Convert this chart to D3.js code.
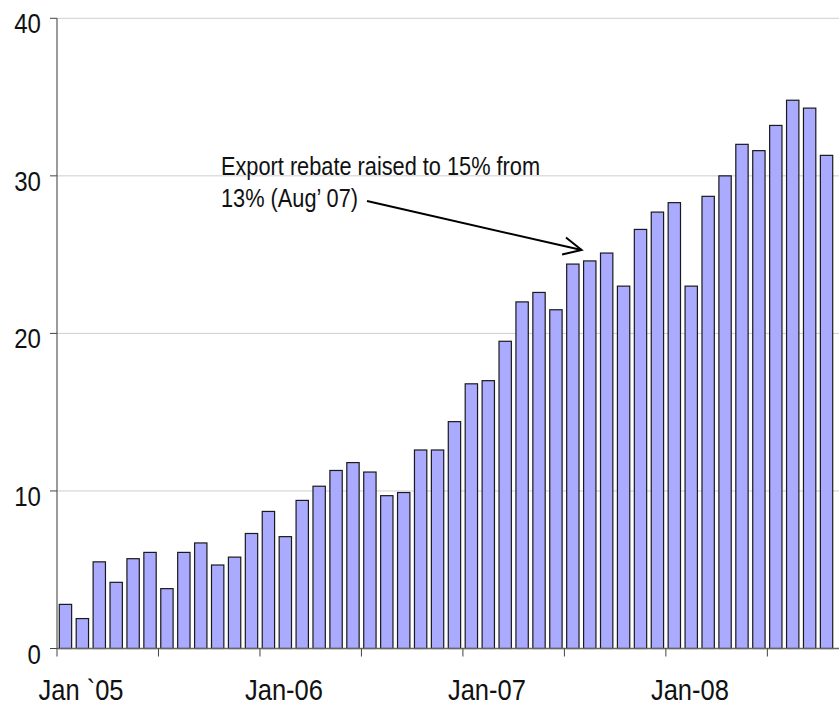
<!DOCTYPE html>
<html>
<head>
<meta charset="utf-8">
<script src="https://cdn.jsdelivr.net/npm/d3@7"></script>
<style>
  html, body { margin: 0; padding: 0; background: #fff; }
  svg { display: block; }
  text { font-family: "Liberation Sans", Arial, sans-serif; fill: #111; }
</style>
</head>
<body>
<svg id="chart" width="839" height="706"></svg>
<script>
const months = [
  "Jan-05","Feb-05","Mar-05","Apr-05","May-05","Jun-05","Jul-05","Aug-05","Sep-05","Oct-05","Nov-05","Dec-05",
  "Jan-06","Feb-06","Mar-06","Apr-06","May-06","Jun-06","Jul-06","Aug-06","Sep-06","Oct-06","Nov-06","Dec-06",
  "Jan-07","Feb-07","Mar-07","Apr-07","May-07","Jun-07","Jul-07","Aug-07","Sep-07","Oct-07","Nov-07","Dec-07",
  "Jan-08","Feb-08","Mar-08","Apr-08","May-08","Jun-08","Jul-08","Aug-08","Sep-08","Oct-08"
];
const values = [
  2.8, 1.9, 5.5, 4.2, 5.7, 6.1, 3.8, 6.1, 6.7, 5.3, 5.8, 7.3,
  8.7, 7.1, 9.4, 10.3, 11.3, 11.8, 11.2, 9.7, 9.9, 12.6, 12.6, 14.4,
  16.8, 17.0, 19.5, 22.0, 22.6, 21.5, 24.4, 24.6, 25.1, 23.0, 26.6, 27.7,
  28.3, 23.0, 28.7, 30.0, 32.0, 31.6, 33.2, 34.8, 34.3, 31.3
];
const yTicks = [0, 10, 20, 30, 40];
const xTickMonths = ["Jan-05","Jul-05","Jan-06","Jul-06","Jan-07","Jul-07","Jan-08","Jul-08"];
const xLabelMonths = ["Jan-05","Jan-06","Jan-07","Jan-08"];
const xLabels = ["Jan `05","Jan-06","Jan-07","Jan-08"];
const annotationLines = ["Export rebate raised to 15% from", "13% (Aug\u2019 07)"];
const annotationMonth = "Aug-07";

(function () {
const svg = d3.select("#chart");
const mLeft = 57, mRight = 835, mTop = 18.3, mBottom = 648.5, plotRight = 839;
const sx = 0.88; // horizontal compression of the glyphs in the reference

const x = d3.scaleBand().domain(months).range([mLeft, mRight]).paddingInner(0.27).paddingOuter(0.135);
const y = d3.scaleLinear().domain([0, 40]).range([mBottom, mTop]);
const gap = (x.step() - x.bandwidth()) / 2;
const edge = m => x(m) - gap;

// gridlines
svg.append("g").selectAll("line").data(yTicks.filter(d => d > 0)).join("line")
  .attr("x1", mLeft).attr("x2", plotRight)
  .attr("y1", d => y(d)).attr("y2", d => y(d))
  .attr("stroke", "#cfcfcf").attr("stroke-width", 1);

// bars
svg.append("g").selectAll("rect").data(months).join("rect")
  .attr("x", d => x(d)).attr("width", x.bandwidth())
  .attr("y", (d, i) => y(values[i])).attr("height", (d, i) => mBottom - y(values[i]))
  .attr("fill", "#aaaaff").attr("stroke", "#1a1a1a").attr("stroke-width", 1.2);

// y axis
const ya = svg.append("g");
ya.append("line").attr("x1", mLeft).attr("x2", mLeft).attr("y1", mTop).attr("y2", mBottom)
  .attr("stroke", "#666").attr("stroke-width", 1.3);
ya.selectAll("line.t").data(yTicks).join("line").attr("class", "t")
  .attr("x1", mLeft - 7).attr("x2", mLeft).attr("y1", d => y(d)).attr("y2", d => y(d))
  .attr("stroke", "#444").attr("stroke-width", 1);
ya.selectAll("text").data(yTicks).join("text")
  .attr("transform", d => `translate(41,${y(d) + 15}) scale(0.86,1)`)
  .attr("text-anchor", "end").attr("font-size", 28).text(d => d);

// x axis
const xa = svg.append("g");
xa.append("line").attr("x1", mLeft).attr("x2", plotRight).attr("y1", mBottom).attr("y2", mBottom)
  .attr("stroke", "#666").attr("stroke-width", 1.3);
xa.selectAll("line.t").data(xTickMonths).join("line").attr("class", "t")
  .attr("x1", d => edge(d)).attr("x2", d => edge(d)).attr("y1", mBottom).attr("y2", mBottom + 8)
  .attr("stroke", "#444").attr("stroke-width", 1);
xa.selectAll("text").data(xLabelMonths).join("text")
  .attr("transform", (d, i) => `translate(${edge(d) + 24},699.5) scale(${sx},1)`)
  .attr("text-anchor", "middle").attr("font-size", 29).text((d, i) => xLabels[i]);

// annotation
const ann = svg.append("g");
annotationLines.forEach((t, i) => {
  ann.append("text").attr("transform", `translate(221,${175 + i * 31.7}) scale(0.87,1)`)
    .attr("font-size", 25).text(t);
});
const ax0 = 367, ay0 = 201;
const ax1 = x(annotationMonth) - 2, ay1 = 250;
ann.append("line").attr("x1", ax0).attr("y1", ay0).attr("x2", ax1).attr("y2", ay1)
  .attr("stroke", "#000").attr("stroke-width", 2);
const ang = Math.atan2(ay1 - ay0, ax1 - ax0), hl = 20, ha = 0.45;
ann.append("path")
  .attr("d", `M${ax1 - hl * Math.cos(ang - ha)},${ay1 - hl * Math.sin(ang - ha)} L${ax1},${ay1} L${ax1 - hl * Math.cos(ang + ha)},${ay1 - hl * Math.sin(ang + ha)}`)
  .attr("fill", "none").attr("stroke", "#000").attr("stroke-width", 2);
})();
</script>
</body>
</html>
